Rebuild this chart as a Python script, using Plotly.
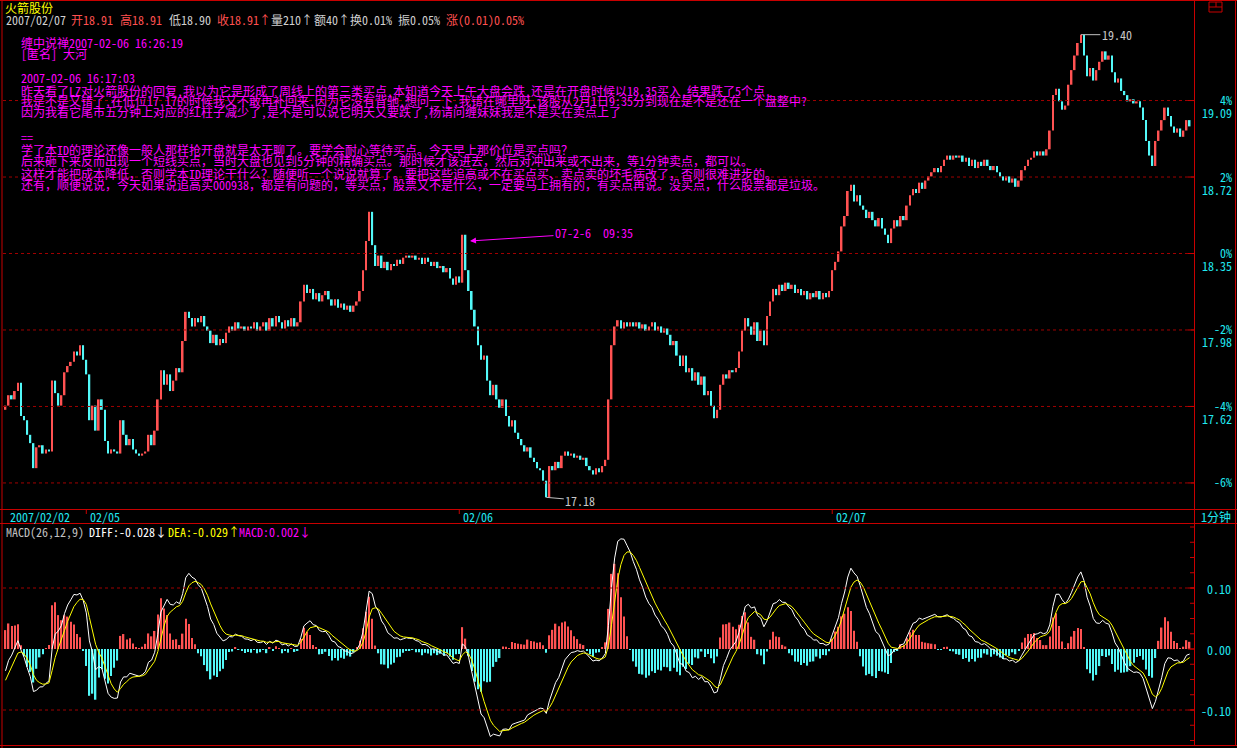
import numpy as np
import plotly.graph_objects as go

W, H = 1237, 748

# ---------------- data ----------------
stock_name = "火箭股份"
day_labels = ["2007/02/02", "02/05", "02/06", "02/07"]

close_0202 = [17.62, 17.67, 17.65, 17.69, 17.73, 17.57, 17.55, 17.48, 17.44, 17.32,
              17.42, 17.43, 17.39, 17.41, 17.40, 17.74, 17.68, 17.62, 17.67, 17.78,
              17.81, 17.83, 17.88, 17.86, 17.91, 17.84]
close_0205 = [17.77, 17.55, 17.62, 17.50, 17.65, 17.60, 17.45, 17.39, 17.41, 17.40,
              17.39, 17.55, 17.48, 17.43, 17.46, 17.41, 17.39, 17.38, 17.39, 17.40,
              17.48, 17.43, 17.50, 17.65, 17.79, 17.72, 17.77, 17.69, 17.74, 17.80,
              17.78, 17.93, 18.07, 18.04, 18.00, 18.04, 18.02, 18.05, 18.00, 17.98,
              17.92, 17.96, 17.91, 17.94, 17.92, 17.97, 18.00, 17.98, 18.02, 17.99,
              18.00, 17.98, 18.00, 17.99, 18.02, 17.98, 18.00, 18.02, 17.98, 18.04,
              18.00, 18.05, 18.02, 17.99, 18.03, 18.00, 18.04, 18.00, 18.02, 18.12,
              18.20, 18.16, 18.18, 18.13, 18.16, 18.12, 18.15, 18.17, 18.13, 18.10,
              18.13, 18.09, 18.11, 18.08, 18.10, 18.07, 18.10, 18.12, 18.17, 18.27,
              18.41, 18.55, 18.39, 18.29, 18.34, 18.28, 18.31, 18.27, 18.30, 18.29,
              18.32, 18.30, 18.33, 18.34, 18.33, 18.34, 18.32, 18.33, 18.30, 18.33,
              18.31, 18.29, 18.31, 18.28, 18.29, 18.26, 18.28, 18.23, 18.20, 18.24]
close_0206 = [18.21, 18.44, 18.27, 18.17, 18.08, 18.00, 17.91, 17.84, 17.86, 17.74,
              17.67, 17.72, 17.65, 17.61, 17.65, 17.57, 17.52, 17.55, 17.49, 17.46,
              17.43, 17.40, 17.42, 17.37, 17.35, 17.32, 17.31, 17.26, 17.18, 17.33,
              17.31, 17.35, 17.32, 17.38, 17.40, 17.38, 17.39, 17.37, 17.38, 17.36,
              17.37, 17.33, 17.31, 17.29, 17.32, 17.30, 17.33, 17.36, 17.65, 17.91,
              18.00, 18.03, 17.99, 18.02, 18.00, 18.02, 18.00, 18.02, 17.99, 18.01,
              17.98, 18.00, 18.02, 17.98, 18.00, 17.97, 17.99, 17.96, 17.91, 17.93,
              17.86, 17.81, 17.86, 17.78, 17.80, 17.74, 17.78, 17.72, 17.76, 17.67,
              17.69, 17.62, 17.56, 17.60, 17.72, 17.77, 17.75, 17.79, 17.78, 17.80,
              17.88, 17.98, 18.04, 18.00, 17.96, 18.02, 17.93, 17.98, 17.91, 18.05,
              18.12, 18.18, 18.15, 18.20, 18.17, 18.21, 18.18, 18.20, 18.16, 18.18,
              18.15, 18.17, 18.13, 18.16, 18.14, 18.17, 18.13, 18.16, 18.14, 18.17]
close_0207 = [18.27, 18.31, 18.36, 18.48, 18.53, 18.65, 18.68, 18.60, 18.63, 18.58,
              18.56, 18.52, 18.55, 18.51, 18.48, 18.52, 18.47, 18.44, 18.40, 18.47,
              18.51, 18.48, 18.53, 18.51, 18.58, 18.63, 18.66, 18.64, 18.69, 18.66,
              18.70, 18.72, 18.74, 18.76, 18.74, 18.77, 18.80, 18.82, 18.80, 18.82,
              18.81, 18.82, 18.79, 18.81, 18.77, 18.80, 18.76, 18.79, 18.77, 18.80,
              18.77, 18.75, 18.77, 18.74, 18.72, 18.70, 18.72, 18.69, 18.71, 18.67,
              18.70, 18.75, 18.77, 18.80, 18.81, 18.84, 18.82, 18.84, 18.82, 18.85,
              18.94, 19.11, 19.14, 19.08, 19.04, 19.06, 19.16, 19.23, 19.30, 19.36,
              19.40, 19.30, 19.20, 19.24, 19.18, 19.23, 19.27, 19.32, 19.28, 19.30,
              19.22, 19.17, 19.19, 19.13, 19.11, 19.08, 19.09, 19.07, 19.08, 19.05,
              18.99, 18.89, 18.82, 18.77, 18.89, 18.94, 18.99, 19.05, 19.01, 18.96,
              18.93, 18.95, 18.91, 18.94, 18.99, 18.96]
first_open = 17.60
base_price = 18.35
pct_levels = [4, 2, 0, -2, -4, -6]
pct_labels = ["4%", "2%", "0%", "-2%", "-4%", "-6%"]
price_labels = ["19.09", "18.72", "18.35", "17.98", "17.62", ""]
macd_levels = [0.10, 0.00, -0.10]
macd_labels = ["0.10", "0.00", "-0.10"]
macd_params = (26, 12, 9)
minutes_per_bar = 2
diff_start = -0.05
dea_start = -0.06
high_price = 19.40
low_price = 17.18

info_items = [
    ("2007/02/07", "#d0d0d0"), ("开18.91", "#ff5050"), ("高18.91", "#ff5050"),
    ("低18.90", "#d0d0d0"), ("收18.91↑", "#ff5050"), ("量210↑", "#d0d0d0"),
    ("额40↑", "#d0d0d0"), ("换0.01%", "#d0d0d0"), ("振0.05%", "#d0d0d0"),
    ("涨(0.01)0.05%", "#ff5050"),
]
comment_lines = [
    "缠中说禅2007-02-06 16:26:19",
    "[匿名] 大河",
    "2007-02-06 16:17:03",
    "昨天看了LZ对火箭股份的回复,我以为它是形成了周线上的第三类买点,本知道今天上午大盘会跌,还是在开盘时候以18.35买入,结果跌了5个点.",
    "我是不是又错了,在低位17.17的时候我又不敢再补回来,因为它没有背驰,想问一下,我错在哪里呀,该股从2月1日9:35分到现在是不是还在一个盘整中?",
    "因为我看它尾市五分钟上对应的红柱子减少了,是不是可以说它明天又要跌了,杨请问缠妹妹我是不是买在卖点上了",
    "==",
    "学了本ID的理论还像一般人那样抢开盘就是太无聊了。要学会耐心等待买点。今天早上那价位是买点吗？",
    "后来砸下来反而出现一个短线买点，当时大盘也见到5分钟的精确买点。那时候才该进去，然后对冲出来或不出来，等1分钟卖点，都可以。",
    "这样才能把成本降低，否则学本ID理论干什么？随便听一个说说就算了。要把这些追高或不在买点买、卖点卖的坏毛病改了，否则很难进步的。",
    "还有，顺便说说，今天如果说追高买000938，都是有问题的，等买点，股票又不是什么，一定要马上拥有的，有买点再说。没买点，什么股票都是垃圾。",
]
arrow_text = "07-2-6  09:35"
macd_legend = [("MACD(26,12,9)", "#c0c0c0"), ("DIFF:-0.028↓", "#ffffff"),
               ("DEA:-0.029↑", "#ffff00"), ("MACD:0.002↓", "#ff00ff")]
period_label = "1分钟"

# ---------------- derived ----------------
days = [close_0202, close_0205, close_0206, close_0207]
closes = np.array(sum(days, []), dtype=float)
n = len(closes)
idx = np.arange(n)
day_start = np.cumsum([0] + [len(d) for d in days[:-1]])
opens = np.r_[first_open, closes[:-1]]
lo = np.minimum(opens, closes)
hi = np.maximum(opens, closes)
hgt = np.maximum(hi - lo, 0.004)
UP, DOWN = "#ff5252", "#52f8f8"
cols = [UP if c > o else DOWN for o, c in zip(opens, closes)]

lp, sp, dp = macd_params
def alpha(N):
    a = 2.0 / (N + 1)
    return 1 - (1 - a) ** minutes_per_bar
al, as_, ad = alpha(lp), alpha(sp), alpha(dp)
ema_l = closes[0]
ema_s = closes[0] + diff_start
dea = dea_start
diff_arr, dea_arr = [], []
for c in closes:
    ema_s += as_ * (c - ema_s)
    ema_l += al * (c - ema_l)
    d = ema_s - ema_l
    dea += ad * (d - dea)
    diff_arr.append(d)
    dea_arr.append(dea)
diff_arr = np.array(diff_arr)
dea_arr = np.array(dea_arr)
macd_hist = 2 * (diff_arr - dea_arr)
hist_cols = [UP if v >= 0 else DOWN for v in macd_hist]

# ---------------- layout geometry (pixels) ----------------
def px(x):
    return x / W
def py(y):
    return 1 - y / H

X_FIRST, DX = 5.5, 3.108
PLOT_L, PLOT_R = 3, 1194
MAIN_T, MAIN_B = 14, 509
ZERO_Y, PPU = 253.5, 208.4
MACD_T, MACD_B, MACD_ZERO, MACD_PPU = 524, 745, 649, 610

x_range = [(PLOT_L - X_FIRST) / DX, (PLOT_R - X_FIRST) / DX]
y_range = [base_price - (MAIN_B - ZERO_Y) / PPU, base_price + (ZERO_Y - MAIN_T) / PPU]
y2_range = [-(MACD_B - MACD_ZERO) / MACD_PPU, (MACD_ZERO - MACD_T) / MACD_PPU]

def price_to_px(p):
    return ZERO_Y - (p - base_price) * PPU

fig = go.Figure()
fig.add_trace(go.Bar(x=idx, base=lo, y=hgt, marker_color=cols, width=0.55,
                     marker_line_width=0, xaxis="x", yaxis="y", hoverinfo="skip"))
fig.add_trace(go.Bar(x=idx, y=macd_hist, marker_color=hist_cols, width=0.45,
                     marker_line_width=0, xaxis="x", yaxis="y2", hoverinfo="skip"))
fig.add_trace(go.Scatter(x=idx, y=diff_arr, mode="lines", line=dict(color="#ffffff", width=1),
                         xaxis="x", yaxis="y2", hoverinfo="skip"))
fig.add_trace(go.Scatter(x=idx, y=dea_arr, mode="lines", line=dict(color="#ffff00", width=1),
                         xaxis="x", yaxis="y2", hoverinfo="skip"))

RED = "#c80000"
GRID = "#a00000"
CYAN = "#20e8f0"
FONT = "Noto Sans Mono CJK SC, Noto Sans CJK SC, sans-serif"
shapes = []
ann = []

def hline(y, x0, x1, color=RED, dash=None, w=1):
    shapes.append(dict(type="line", xref="paper", yref="paper", x0=px(x0), x1=px(x1),
                       y0=py(y), y1=py(y), line=dict(color=color, width=w, dash=dash)))
def vline(x, y0, y1, color=RED, w=1):
    shapes.append(dict(type="line", xref="paper", yref="paper", x0=px(x), x1=px(x),
                       y0=py(y0), y1=py(y1), line=dict(color=color, width=w)))
def text(x, y, s, color, size=12, xanchor="left"):
    ann.append(dict(xref="paper", yref="paper", x=px(x), y=py(y), text=s, showarrow=False,
                    xanchor=xanchor, yanchor="middle", font=dict(family=FONT, size=size, color=color)))

# grid lines on price panel
for p, lab, plab in zip(pct_levels, pct_labels, price_labels):
    lvl = base_price * (1 + p / 100)
    shapes.append(dict(type="line", xref="paper", yref="y", x0=px(PLOT_L), x1=px(PLOT_R),
                       y0=lvl, y1=lvl, line=dict(color=GRID, width=1, dash="dot")))
    yy = price_to_px(lvl)
    hline(yy, PLOT_R - 6, PLOT_R)
    text(1234, yy - 1, lab, CYAN, xanchor="right")
    if plab:
        text(1234, yy + 12, plab, CYAN, xanchor="right")

# macd grid
for v, lab in zip(macd_levels, macd_labels):
    yy = MACD_ZERO - v * MACD_PPU
    if v != 0:
        shapes.append(dict(type="line", xref="paper", yref="y2", x0=px(PLOT_L), x1=px(PLOT_R),
                           y0=v, y1=v, line=dict(color=GRID, width=1, dash="dot")))
    hline(yy, PLOT_R - 6, PLOT_R)
    text(1233, yy, lab, CYAN, xanchor="right")
for k in range(-6, 9):
    yy = MACD_ZERO - k * 0.025 * MACD_PPU
    if MACD_T < yy < MACD_B:
        hline(yy, PLOT_R - 4, PLOT_R)

# frame
vline(2, 0, 748)
vline(PLOT_R + 0.5, 0, MACD_B)
vline(1235.5, 0, MACD_B)
hline(0.5, 0, W)
hline(509.5, 0, W)
hline(523.5, 0, W)
hline(MACD_B + 0.5, 0, W)
# small icon at top right
shapes.append(dict(type="rect", xref="paper", yref="paper", x0=px(1209), x1=px(1222),
                   y0=py(12), y1=py(2), line=dict(color=RED, width=1)))
hline(7, 1209, 1222)
vline(1216, 2, 7)

# date strip
for ds, lab in zip(day_start, day_labels):
    xx = X_FIRST + ds * DX
    if ds > 0:
        vline(xx, 509.5, 514)
    text(max(xx + 2, 4), 516.5, lab, CYAN)
text(1216, 516.5, period_label, CYAN, xanchor="center")

# header
text(3, 7, stock_name, "#ffff00")
info_x = [4, 69, 118, 167, 215, 269, 312, 348, 396, 444]
for (s, c), xx in zip(info_items, info_x):
    text(xx, 20, s, c)

# macd legend
leg_x = [4, 87, 166, 237]
for (s, c), xx in zip(macd_legend, leg_x):
    text(xx, 531, s, c)

# comment block
comment_y = [42, 54, 78, 90, 101, 112, 137, 149, 161, 173, 184]
for s, yy in zip(comment_lines, comment_y):
    text(19, yy, s, "#ff00ff")

# arrow annotation at 02/06 open
tip_i = (470 - X_FIRST) / DX
ann.append(dict(xref="x", yref="y", x=tip_i, y=base_price + (ZERO_Y - 241) / PPU,
                text=arrow_text, showarrow=True, arrowhead=2, arrowsize=1.2, arrowwidth=1,
                arrowcolor="#ff00ff", ax=124, ay=-8,
                font=dict(family=FONT, size=12, color="#ff00ff")))
# high / low labels
i_hi = int(np.argmax(closes))
i_lo = int(np.argmin(closes))
ann.append(dict(xref="x", yref="y", x=i_hi, y=high_price, text=f"{high_price:.2f}",
                showarrow=True, arrowhead=0, arrowwidth=1, arrowcolor="#c0c0c0",
                ax=36, ay=0, font=dict(family=FONT, size=12, color="#c8c8c8")))
ann.append(dict(xref="x", yref="y", x=i_lo, y=low_price, text=f"{low_price:.2f}",
                showarrow=True, arrowhead=0, arrowwidth=1, arrowcolor="#c0c0c0",
                ax=34, ay=3, font=dict(family=FONT, size=12, color="#c8c8c8")))

fig.update_layout(
    width=W, height=H, margin=dict(l=0, r=0, t=0, b=0),
    paper_bgcolor="#000000", plot_bgcolor="#000000",
    showlegend=False, barmode="overlay", hovermode=False,
    xaxis=dict(domain=[px(PLOT_L), px(PLOT_R)], range=x_range, visible=False, anchor="y"),
    yaxis=dict(domain=[py(MAIN_B), py(MAIN_T)], range=y_range, visible=False, anchor="x"),
    yaxis2=dict(domain=[py(MACD_B), py(MACD_T)], range=y2_range, visible=False, anchor="x"),
    shapes=shapes, annotations=ann,
)
fig.write_html("out.html", config={"displayModeBar": False},
               post_script="document.body.style.margin='0px';document.body.style.padding='0px';"
                           "document.body.style.background='#000';document.body.style.overflow='hidden';")
